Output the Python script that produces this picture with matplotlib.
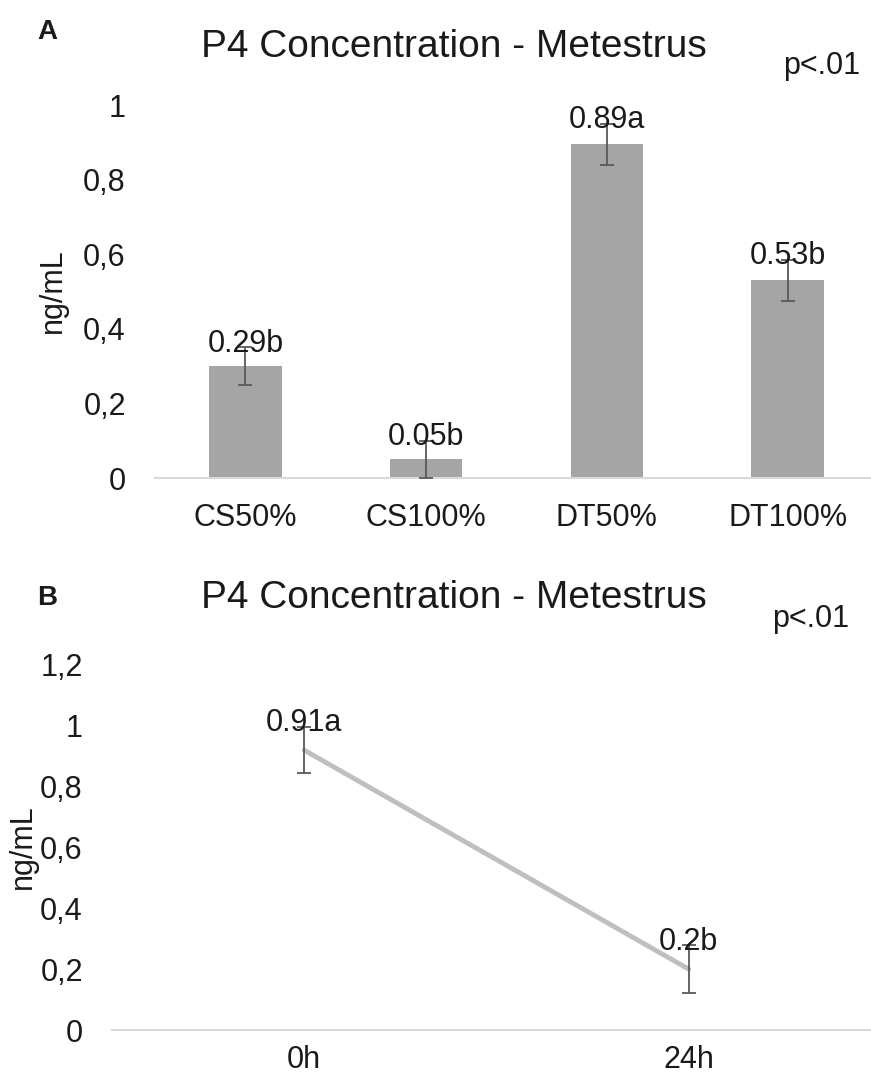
import matplotlib
matplotlib.use("Agg")
import matplotlib.pyplot as plt
from matplotlib.ticker import FuncFormatter

plt.rcParams['font.family'] = ['Liberation Sans', 'DejaVu Sans']

# Panel A data
cats_a = ["CS50%", "CS100%", "DT50%", "DT100%"]
vals_a = [0.30, 0.05, 0.895, 0.53]
err_a = [0.05, 0.05, 0.055, 0.055]
labels_a = ["0.29b", "0.05b", "0.89a", "0.53b"]
yticks_a = [0, 0.2, 0.4, 0.6, 0.8, 1.0]

# Panel B data
cats_b = ["0h", "24h"]
vals_b = [0.92, 0.20]
err_b = [0.076, 0.078]
labels_b = ["0.91a", "0.2b"]
yticks_b = [0, 0.2, 0.4, 0.6, 0.8, 1.0, 1.2]

TXT = '#1a1a1a'
FS = 22
W, H = 871, 1081
fig = plt.figure(figsize=(W / 100, H / 100), dpi=100)

def fmt(v, pos):
    s = ('%.1f' % v).rstrip('0').rstrip('.')
    return s.replace('.', ',')

def style(ax, ylim, yticks, xpad):
    for s in ['top', 'right', 'left']:
        ax.spines[s].set_visible(False)
    ax.spines['bottom'].set_color('#d9d9d9')
    ax.spines['bottom'].set_linewidth(1.5)
    ax.set_ylim(*ylim)
    ax.set_yticks(yticks)
    ax.yaxis.set_major_formatter(FuncFormatter(fmt))
    ax.tick_params(axis='y', length=0, pad=21, labelsize=FS, labelcolor=TXT)
    ax.tick_params(axis='x', length=0, pad=xpad, labelsize=FS, labelcolor=TXT)

# ---- Panel A ----
axA = fig.add_axes([155 / W, 1 - 478 / H, 723 / W, 373 / H])
xa = list(range(len(cats_a)))
axA.bar(xa, vals_a, width=0.4, color='#a5a5a5', zorder=2)
axA.errorbar(xa, vals_a, yerr=err_a, fmt='none', ecolor='#595959',
             elinewidth=1.3, capsize=5, capthick=1.3, zorder=3, clip_on=False)
axA.set_xlim(-0.5, 3.5)
style(axA, (0, 1.0), yticks_a, 18)
axA.set_xticks(xa)
axA.set_xticklabels(cats_a)
for x, v, e, lab in zip(xa, vals_a, err_a, labels_a):
    axA.annotate(lab, (x, v + e), xytext=(0, -8), textcoords='offset points',
                 ha='center', va='bottom', fontsize=FS, color=TXT, annotation_clip=False)
axA.set_ylabel("ng/mL", fontsize=FS, color=TXT)
axA.yaxis.set_label_coords((68 - 155) / 723, (478 - 291) / 373)

fig.text(454 / W, 1 - 47 / H, "P4 Concentration - Metestrus", ha='center', va='center',
         fontsize=28, color=TXT)
fig.text(822 / W, 1 - 66 / H, "p<.01", ha='center', va='center', fontsize=FS, color=TXT)
fig.text(37 / W, 1 - 32 / H, "A", ha='left', va='center', fontsize=20,
         fontweight='bold', color=TXT)

# ---- Panel B ----
axB = fig.add_axes([112 / W, 1 - 1030 / H, 769 / W, 365 / H])
xb = list(range(len(cats_b)))
axB.plot(xb, vals_b, color='#bfbfbf', linewidth=3.5, solid_capstyle='round', zorder=2)
axB.errorbar(xb, vals_b, yerr=err_b, fmt='none', ecolor='#595959',
             elinewidth=1.3, capsize=5, capthick=1.3, zorder=3)
axB.set_xlim(-0.5, 1.5)
style(axB, (0, 1.2), yticks_b, 11)
axB.set_xticks(xb)
axB.set_xticklabels(cats_b)
for x, v, e, lab in zip(xb, vals_b, err_b, labels_b):
    axB.annotate(lab, (x, v + e), xytext=(0, -8), textcoords='offset points',
                 ha='center', va='bottom', fontsize=FS, color=TXT, annotation_clip=False)
axB.set_ylabel("ng/mL", fontsize=FS, color=TXT)
axB.yaxis.set_label_coords((38 - 112) / 769, (1030 - 847) / 365)

fig.text(454 / W, 1 - 598 / H, "P4 Concentration - Metestrus", ha='center', va='center',
         fontsize=28, color=TXT)
fig.text(811 / W, 1 - 619 / H, "p<.01", ha='center', va='center', fontsize=FS, color=TXT)
fig.text(37 / W, 1 - 598 / H, "B", ha='left', va='center', fontsize=20,
         fontweight='bold', color=TXT)

fig.savefig("out.png", dpi=100, facecolor='white')
